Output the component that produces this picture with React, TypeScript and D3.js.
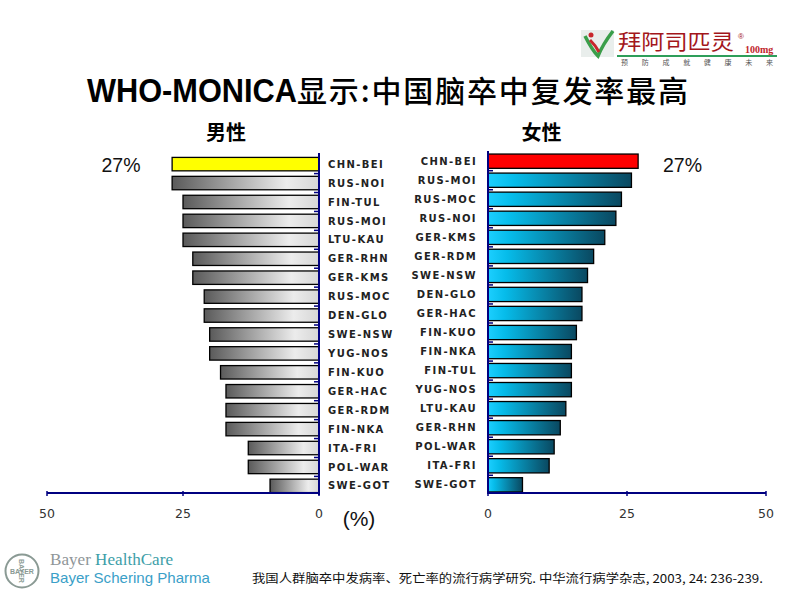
import React from 'react';
import * as d3 from 'd3';

const maleCategories = ['CHN-BEI','RUS-NOI','FIN-TUL','RUS-MOI','LTU-KAU','GER-RHN','GER-KMS','RUS-MOC','DEN-GLO','SWE-NSW','YUG-NOS','FIN-KUO','GER-HAC','GER-RDM','FIN-NKA','ITA-FRI','POL-WAR','SWE-GOT'];
const maleValues = [27, 27, 25, 25, 25, 23.2, 23.2, 21.1, 21.1, 20.1, 20.1, 18.1, 17.1, 17.1, 17.1, 13, 13, 9];
const femaleCategories = ['CHN-BEI','RUS-MOI','RUS-MOC','RUS-NOI','GER-KMS','GER-RDM','SWE-NSW','DEN-GLO','GER-HAC','FIN-KUO','FIN-NKA','FIN-TUL','YUG-NOS','LTU-KAU','GER-RHN','POL-WAR','ITA-FRI','SWE-GOT'];
const femaleValues = [27, 25.8, 24, 23, 21, 19, 17.9, 16.9, 16.9, 15.9, 15, 15, 15, 14, 13, 11.9, 11, 6.2];
const tickValues = [0, 25, 50];

const titleLatin = 'WHO-MONICA';
const titleCJK = '显示:中国脑卒中复发率最高';
const maleTitle = '男性';
const femaleTitle = '女性';
const unitLabel = '(%)';
const citation = '我国人群脑卒中发病率、死亡率的流行病学研究. 中华流行病学杂志, 2003, 24: 236-239.';

const NAVY = '#000080';
const CJK = '"Noto Sans CJK SC", sans-serif';
const SANS = '"Liberation Sans", Arial, sans-serif';
const VERD = '"DejaVu Sans", Verdana, sans-serif';

export default function App() {
  const xL = d3.scaleLinear().domain([0, 50]).range([319, 47]);
  const xR = d3.scaleLinear().domain([0, 50]).range([488, 766]);
  const yL = d3.scaleBand<string>().domain(maleCategories).range([154, 496]).paddingInner(0.29).paddingOuter(0.18);
  const yR = d3.scaleBand<string>().domain(femaleCategories).range([151, 495]).paddingInner(0.25).paddingOuter(0.16);
  const axisY = 493;

  const bwL = yL.bandwidth();
  const bwR = yR.bandwidth();

  return (
    <div style={{ position: 'absolute', left: 0, top: 0 }}>
      <svg width={800} height={600} style={{ display: 'block', background: '#fff' }}>
        <defs>
          <linearGradient id="gGray" x1="0" y1="0" x2="1" y2="0">
            <stop offset="0" stopColor="#5a5a5a" />
            <stop offset="0.78" stopColor="#ececec" />
            <stop offset="1" stopColor="#d6d6d6" />
          </linearGradient>
          <linearGradient id="gCyan" x1="0" y1="0" x2="1" y2="0">
            <stop offset="0" stopColor="#1ccfff" />
            <stop offset="0.18" stopColor="#06bcea" />
            <stop offset="1" stopColor="#0a4860" />
          </linearGradient>
        </defs>

        {/* top-right logo */}
        <g>
          <rect x={581} y={30} width={33} height={27} fill="#e9eeec" />
          <path d="M585,36 Q592,50 598,56 Q603,44 613,31" fill="none" stroke="#3a9e4a" strokeWidth={3.5} />
          <path d="M590,40 Q596,46 599,52" fill="none" stroke="#c8262c" strokeWidth={3} />
          <circle cx={591} cy={35} r={2.5} fill="#c8262c" />
          <text x={618} y={49} fontFamily={CJK} fontSize={21} fill="#a3161b" textLength={116} lengthAdjust="spacingAndGlyphs">拜阿司匹灵</text>
          <text x={738} y={39} fontFamily={SANS} fontSize={8} fill="#a3161b">®</text>
          <text x={745} y={53} fontFamily='"Liberation Serif", serif' fontSize={10} fontWeight="bold" fill="#c0262c">100mg</text>
          <line x1={617} x2={777} y1={56} y2={56} stroke="#2e9e5a" strokeWidth={2} />
          <text x={621} y={65} fontFamily={CJK} fontSize={7} fill="#555" textLength={152} lengthAdjust="spacing">预防成就健康未来</text>
        </g>

        {/* title */}
        <text x={87} y={102} fontFamily={SANS} fontWeight="bold" fontSize={33} fill="#000" textLength={210} lengthAdjust="spacingAndGlyphs">{titleLatin}</text>
        <text x={297} y={102} fontFamily={CJK} fontWeight={500} fontSize={30} fill="#000" textLength={391} lengthAdjust="spacing">{titleCJK}</text>

        <text x={226} y={140} textAnchor="middle" fontFamily={CJK} fontWeight="bold" fontSize={20} fill="#000">{maleTitle}</text>
        <text x={541.5} y={140} textAnchor="middle" fontFamily={CJK} fontWeight="bold" fontSize={20} fill="#000">{femaleTitle}</text>

        {/* male bars */}
        {maleCategories.map((c, i) => (
          <rect key={c} x={xL(maleValues[i])} y={yL(c)} width={xL(0) - xL(maleValues[i])} height={bwL}
            fill={i === 0 ? '#ffff00' : 'url(#gGray)'} stroke="#000" strokeWidth={1.3} />
        ))}
        {maleCategories.map((c) => (
          <text key={c} x={328} y={(yL(c) as number) + bwL / 2 + 3.6} fontFamily={VERD} fontWeight="bold" fontSize={10} letterSpacing={1.4} fill="#222">{c}</text>
        ))}
        {/* female bars */}
        {femaleCategories.map((c, i) => (
          <rect key={c} x={xR(0)} y={yR(c)} width={xR(femaleValues[i]) - xR(0)} height={bwR}
            fill={i === 0 ? '#ff0000' : 'url(#gCyan)'} stroke="#000" strokeWidth={1.3} />
        ))}
        {femaleCategories.map((c) => (
          <text key={c} x={477} y={(yR(c) as number) + bwR / 2 + 3.6} textAnchor="end" fontFamily={VERD} fontWeight="bold" fontSize={10} letterSpacing={1.4} fill="#222">{c}</text>
        ))}

        {/* left axes */}
        <line x1={xL(50)} x2={xL(0)} y1={axisY} y2={axisY} stroke={NAVY} strokeWidth={2} />
        <line x1={xL(0)} x2={xL(0)} y1={153} y2={495} stroke={NAVY} strokeWidth={2} />
        {maleCategories.slice(1).map((c) => {
          const yy = (yL(c) as number) - (yL.step() - bwL) / 2;
          return <line key={c} x1={314} x2={319} y1={yy} y2={yy} stroke={NAVY} strokeWidth={1.5} />;
        })}
        {tickValues.map((t) => (
          <g key={t}>
            <line x1={xL(t)} x2={xL(t)} y1={axisY - 2} y2={axisY + 3} stroke={NAVY} strokeWidth={1.5} />
            <text x={xL(t)} y={518} textAnchor="middle" fontFamily={VERD} fontSize={12.5} fill="#333">{t}</text>
          </g>
        ))}
        {/* right axes */}
        <line x1={xR(0)} x2={xR(50)} y1={axisY} y2={axisY} stroke={NAVY} strokeWidth={2} />
        <line x1={xR(0)} x2={xR(0)} y1={151} y2={494} stroke={NAVY} strokeWidth={2} />
        {femaleCategories.slice(1).map((c) => {
          const yy = (yR(c) as number) - (yR.step() - bwR) / 2;
          return <line key={c} x1={488} x2={493} y1={yy} y2={yy} stroke={NAVY} strokeWidth={1.5} />;
        })}
        {tickValues.map((t) => (
          <g key={t}>
            <line x1={xR(t)} x2={xR(t)} y1={axisY - 2} y2={axisY + 3} stroke={NAVY} strokeWidth={1.5} />
            <text x={xR(t)} y={518} textAnchor="middle" fontFamily={VERD} fontSize={12.5} fill="#333">{t}</text>
          </g>
        ))}

        {/* value annotations */}
        <text x={121} y={172} textAnchor="middle" fontFamily={SANS} fontSize={19.5} fill="#111">{`${maleValues[0]}%`}</text>
        <text x={682.5} y={172} textAnchor="middle" fontFamily={SANS} fontSize={19.5} fill="#111">{`${femaleValues[0]}%`}</text>
        <text x={359} y={526} textAnchor="middle" fontFamily={SANS} fontSize={21} fill="#111">{unitLabel}</text>

        {/* Bayer logo */}
        <g>
          <circle cx={22} cy={571} r={16.5} fill="none" stroke="#8a9a94" strokeWidth={2} />
          <text x={22} y={574} textAnchor="middle" fontFamily={SANS} fontSize={7} fontWeight="bold" fill="#8a9a94">BAYER</text>
          <text x={22} y={571} textAnchor="middle" fontFamily={SANS} fontSize={7} fontWeight="bold" fill="#8a9a94" transform="rotate(90,22,571) translate(0,3)">BAYER</text>
          <text x={50} y={565} fontFamily='"Liberation Serif", serif' fontSize={17} textLength={123} lengthAdjust="spacingAndGlyphs">
            <tspan fill="#8f9698">Bayer </tspan><tspan fill="#3d9ea8">HealthCare</tspan>
          </text>
          <text x={50} y={583} fontFamily={SANS} fontSize={15} fill="#3aa0c8" textLength={160} lengthAdjust="spacingAndGlyphs">Bayer Schering Pharma</text>
        </g>

        <text x={252} y={583} fontFamily={CJK} fontSize={12} fill="#111" textLength={511} lengthAdjust="spacingAndGlyphs">{citation}</text>
      </svg>
    </div>
  );
}
